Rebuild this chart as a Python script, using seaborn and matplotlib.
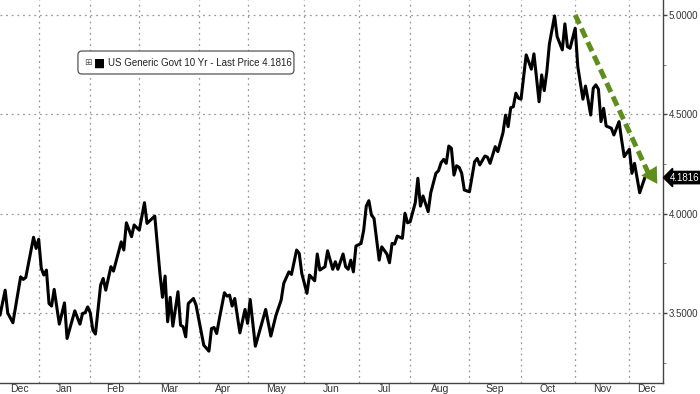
import numpy as np
import pandas as pd
import matplotlib
matplotlib.use("Agg")
import matplotlib.pyplot as plt
from matplotlib.patches import FancyBboxPatch
from matplotlib.ticker import FixedLocator, MultipleLocator, NullFormatter
import seaborn as sns

# trading-day index from the start of the chart (Dec 2022) and 10Y yield
day = [0, 2, 3, 5, 8, 9, 10, 13, 14, 15,
       16, 17, 18, 19, 20, 21, 23, 25, 26, 29,
       31, 32, 33, 34, 35, 36, 37, 39, 40, 41,
       43, 44, 47, 48, 49, 51, 52, 54, 56, 57,
       60, 62, 63, 64, 65, 66, 67, 69, 70, 71,
       72, 73, 75, 76, 79, 81, 82, 83, 84, 85,
       87, 88, 89, 90, 91, 93, 95, 96, 97, 99,
       103, 105, 107, 109, 110, 112, 113, 115, 116, 117,
       119, 120, 122, 123, 124, 126, 127, 129, 130, 131,
       133, 134, 135, 136, 137, 138, 140, 141, 142, 143,
       144, 145, 147, 148, 150, 151, 152, 153, 154, 156,
       157, 158, 159, 161, 162, 163, 164, 166, 167, 168,
       169, 170, 171, 172, 173, 174, 175, 176, 177, 178,
       179, 180, 182, 184, 185, 186, 188, 189, 190, 192,
       193, 195, 196, 197, 198, 199, 200, 201, 202, 204,
       206, 207, 209, 210, 211, 212, 213, 215, 216, 218,
       219, 220, 221, 223, 224, 226, 227, 228, 229, 230,
       231, 232, 233, 234, 235, 237, 238, 240, 241, 242,
       244, 245, 246, 248, 250]
yld = [3.489, 3.615, 3.500, 3.451, 3.682, 3.669, 3.679, 3.881, 3.825, 3.871,
       3.725, 3.691, 3.716, 3.548, 3.535, 3.619, 3.444, 3.551, 3.372, 3.511,
       3.444, 3.498, 3.501, 3.531, 3.501, 3.414, 3.394, 3.640, 3.674, 3.615,
       3.733, 3.711, 3.858, 3.817, 3.954, 3.884, 3.943, 3.917, 4.055, 3.951,
       3.988, 3.699, 3.579, 3.686, 3.456, 3.579, 3.434, 3.607, 3.439, 3.431,
       3.380, 3.548, 3.573, 3.540, 3.338, 3.308, 3.422, 3.427, 3.397, 3.468,
       3.602, 3.585, 3.590, 3.535, 3.573, 3.400, 3.518, 3.448, 3.568, 3.333,
       3.518, 3.384, 3.489, 3.565, 3.649, 3.707, 3.694, 3.817, 3.800, 3.699,
       3.599, 3.691, 3.662, 3.797, 3.716, 3.733, 3.813, 3.720, 3.758, 3.720,
       3.797, 3.733, 3.720, 3.766, 3.707, 3.837, 3.850, 3.917, 4.038, 4.065,
       3.993, 3.976, 3.766, 3.833, 3.797, 3.753, 3.850, 3.847, 3.887, 3.876,
       4.002, 3.954, 3.959, 4.055, 4.178, 4.038, 4.089, 4.010, 4.105, 4.153,
       4.203, 4.216, 4.256, 4.273, 4.253, 4.340, 4.329, 4.194, 4.241, 4.233,
       4.203, 4.119, 4.110, 4.261, 4.278, 4.245, 4.290, 4.284, 4.253, 4.337,
       4.312, 4.407, 4.496, 4.438, 4.533, 4.538, 4.606, 4.581, 4.576, 4.799,
       4.727, 4.804, 4.563, 4.698, 4.619, 4.715, 4.854, 4.995, 4.891, 4.824,
       4.955, 4.840, 4.832, 4.933, 4.740, 4.576, 4.642, 4.572, 4.496, 4.631,
       4.648, 4.626, 4.463, 4.530, 4.441, 4.430, 4.396, 4.463, 4.371, 4.287,
       4.324, 4.203, 4.253, 4.105, 4.1816]

month_start = [15, 35, 54, 77, 96, 118, 139, 159, 182, 202, 223, 244]
month_labels = ["Dec", "Jan", "Feb", "Mar", "Apr", "May", "Jun",
                "Jul", "Aug", "Sep", "Oct", "Nov", "Dec"]
last_price = 4.1816
series_name = "US Generic Govt 10 Yr - Last Price"

x_end = 257
y_lo, y_hi = 3.148, 5.075

df = pd.DataFrame({"day": day, "yield": yld})

sns.set_style("white")
plt.rcParams["font.family"] = ["Liberation Sans", "DejaVu Sans"]

fig = plt.figure(figsize=(7, 3.94), dpi=100)
ax = fig.add_axes([0.0, 0.028, 0.947, 0.972])

sns.lineplot(data=df, x="day", y="yield", ax=ax, color="black",
             linewidth=2.2, legend=False)

ax.set_xlim(0, x_end)
ax.set_ylim(y_lo, y_hi)

# axes / spines
for s in ["top", "left"]:
    ax.spines[s].set_visible(False)
for s in ["right", "bottom"]:
    ax.spines[s].set_color("#444444")
    ax.spines[s].set_linewidth(1.0)

# y axis on the right
ax.yaxis.tick_right()
ax.yaxis.set_label_position("right")
ax.yaxis.set_major_locator(MultipleLocator(0.5))
ax.yaxis.set_minor_locator(MultipleLocator(0.25))
ax.yaxis.set_major_formatter(plt.FuncFormatter(lambda v, p: "%.4f" % v))
ax.tick_params(axis="y", which="major", direction="out", length=3, width=1,
               color="#444444", labelsize=7, labelcolor="#333333", pad=1)
ax.tick_params(axis="y", which="minor", direction="out", length=2,
               color="#666666")

# x axis: month boundaries as gridlines, labels centered in months
edges = [0] + month_start + [x_end]
centers = [(a + b) / 2 for a, b in zip(edges[:-1], edges[1:])]
ax.xaxis.set_major_locator(FixedLocator(month_start))
ax.xaxis.set_major_formatter(NullFormatter())
ax.xaxis.set_minor_locator(FixedLocator(centers))
ax.set_xticklabels(month_labels, minor=True)
ax.tick_params(axis="x", which="major", direction="out", length=3,
               color="#444444")
ax.tick_params(axis="x", which="minor", length=0, labelsize=7.5,
               labelcolor="#333333", pad=1)
ax.set_xlabel("")
ax.set_ylabel("")

ax.grid(True, which="major", axis="both", linestyle=(0, (1.5, 3)),
        color="#9a9a9a", linewidth=0.9)

# green dashed trend arrow
green = "#5e8f1c"
ax.plot([223, 251.5], [5.0, 4.2], color=green, linewidth=3.6,
        linestyle=(0, (2.0, 1.0)), solid_capstyle="butt", clip_on=False)
ax.annotate("", xy=(254.8, 4.15), xytext=(250.5, 4.24),
            arrowprops=dict(arrowstyle="-|>,head_length=1.1,head_width=0.65",
                            color=green, lw=0.1, shrinkA=0, shrinkB=0),
            annotation_clip=False)

# last price tag on right axis
ax.annotate("%.4f" % last_price, xy=(1.0, last_price),
            xycoords=("axes fraction", "data"), xytext=(5, 0),
            textcoords="offset points", va="center", ha="left",
            fontsize=7, color="white",
            bbox=dict(boxstyle="larrow,pad=0.12", fc="black", ec="black"),
            annotation_clip=False)

# legend-like box: frame, icon, black swatch, series name
box = FancyBboxPatch((0.1176, 0.8068), 0.3258, 0.06,
                     boxstyle="round,pad=0,rounding_size=0.006",
                     mutation_aspect=1.73, transform=ax.transAxes,
                     fc="white", ec="#555555", lw=0.9, zorder=5)
ax.add_patch(box)
ax.text(0.1265, 0.836, "\u229e", transform=ax.transAxes,
        family=["DejaVu Sans"], fontsize=6.5, color="#555555",
        va="center", ha="left", zorder=6)
ax.text(0.1415, 0.836, "\u25a0", transform=ax.transAxes,
        family=["DejaVu Sans"], fontsize=8.5, color="black",
        va="center", ha="left", zorder=6)
ax.text(0.1625, 0.836, series_name + " %.4f" % last_price,
        transform=ax.transAxes, fontsize=7.0, color="#222222",
        va="center", ha="left", zorder=6)

fig.savefig("out.png", dpi=100)
